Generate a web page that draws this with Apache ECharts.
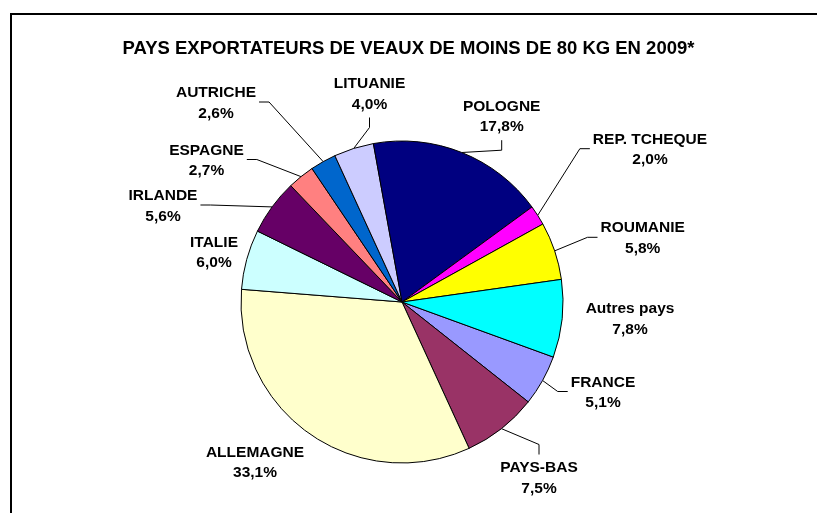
<!DOCTYPE html>
<html>
<head>
<meta charset="utf-8">
<script src="https://cdn.jsdelivr.net/npm/echarts@6/dist/echarts.min.js"></script>
<style>
  html, body { margin: 0; padding: 0; background: #fff; }
  #main { width: 817px; height: 513px; }
</style>
</head>
<body>
<div id="main"></div>
<script>
// ordre des séries comme dans le classeur d'origine
const pays = ['FRANCE', 'PAYS-BAS', 'ALLEMAGNE', 'ITALIE', 'IRLANDE', 'ESPAGNE',
  'AUTRICHE', 'LITUANIE', 'POLOGNE', 'REP. TCHEQUE', 'ROUMANIE', 'Autres pays'];
const parts = [5.1, 7.5, 33.1, 6.0, 5.6, 2.7, 2.6, 4.0, 17.8, 2.0, 5.8, 7.8];
const couleurs = ['#9999FF', '#993366', '#FFFFCC', '#CCFFFF', '#660066', '#FF8080',
  '#0066CC', '#CCCCFF', '#000080', '#FF00FF', '#FFFF00', '#00FFFF'];

// placement des étiquettes (centre du bloc) et côté d'accroche du trait de rappel
const posEtiquettes = [[603, 392.5], [539, 478], [255, 462.5], [214, 252.8], [163, 206],
  [206.5, 160.5], [216, 103], [369.5, 94], [501.7, 116.7], [650, 149.7], [642.7, 238.3], [630, 319]];
const accroches = ['left', 'top', null, null, 'right', 'right', 'right', 'bottom', 'bottom', 'left', 'left', null];

const chart = echarts.init(document.getElementById('main'));

function traitRappel(i, p0, w, h) {
  const [x, y] = posEtiquettes[i];
  const ecart = 3, seg = 10;
  let p1, p2;
  switch (accroches[i]) {
    case 'left':   p2 = [x - w / 2 - ecart, y - 1]; p1 = [p2[0] - seg, p2[1]]; break;
    case 'right':  p2 = [x + w / 2 + ecart, y - 1]; p1 = [p2[0] + seg, p2[1]]; break;
    case 'top':    p2 = [x, y - h / 2 - ecart];     p1 = [x, p2[1] - seg]; break;
    case 'bottom': p2 = [x, y + h / 2 + ecart];     p1 = [x, p2[1] + seg]; break;
  }
  return [p0, p1, p2];
}

const option = {
  animation: false,
  title: {
    text: 'PAYS EXPORTATEURS DE VEAUX DE MOINS DE 80 KG EN 2009*',
    left: 'center',
    top: 34,
    textStyle: { fontFamily: 'Liberation Sans', fontWeight: 'bold', fontSize: 18.5, color: '#000' }
  },
  graphic: [{
    type: 'rect',
    shape: { x: 11, y: 14, width: 900, height: 600 },
    style: { fill: 'none', stroke: '#000', lineWidth: 2 }
  }],
  series: [{
    type: 'pie',
    center: [402, 302],
    radius: 161,
    startAngle: -20,
    clockwise: true,
    data: pays.map((p, i) => ({
      name: p,
      value: parts[i],
      itemStyle: { color: couleurs[i] },
      labelLine: { show: accroches[i] !== null }
    })),
    itemStyle: { borderColor: '#000', borderWidth: 1 },
    label: {
      formatter: p => p.name + '\n' + p.value.toFixed(1).replace('.', ',') + '%',
      fontFamily: 'Liberation Sans',
      fontWeight: 'bold',
      fontSize: 15.5,
      lineHeight: 20.5,
      color: '#000'
    },
    labelLine: { length: 20, length2: 10, lineStyle: { color: '#000', width: 1 } },
    labelLayout: params => {
      const i = params.dataIndex;
      const out = {
        x: posEtiquettes[i][0],
        y: posEtiquettes[i][1],
        align: 'center',
        verticalAlign: 'middle'
      };
      if (accroches[i] && params.labelLinePoints) {
        out.labelLinePoints = traitRappel(i, params.labelLinePoints[0],
          params.labelRect.width, params.labelRect.height);
      }
      return out;
    }
  }]
};

chart.setOption(option);
</script>
</body>
</html>
